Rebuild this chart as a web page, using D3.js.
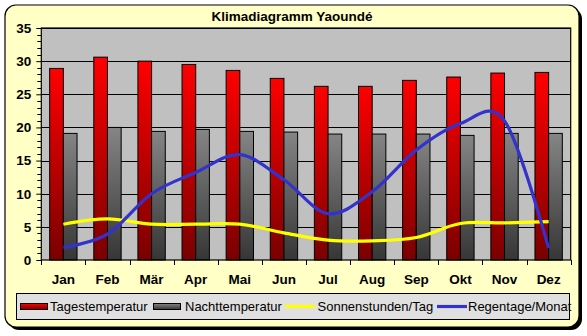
<!DOCTYPE html>
<html>
<head>
<meta charset="utf-8">
<script src="https://cdn.jsdelivr.net/npm/d3@7"></script>
<style>
html,body{margin:0;padding:0;background:#fff;}
svg{display:block;}
text{font-family:"Liberation Sans",Arial,sans-serif;}
</style>
</head>
<body>
<svg id="chart" width="587" height="336"></svg>
<script>
const title = "Klimadiagramm Yaoundé";
const months = ["Jan","Feb","Mär","Apr","Mai","Jun","Jul","Aug","Sep","Okt","Nov","Dez"];
const tagesTemp = [28.9,30.6,30.0,29.5,28.6,27.4,26.2,26.2,27.1,27.6,28.2,28.3];
const nachtTemp = [19.1,20.0,19.4,19.7,19.4,19.3,19.0,19.0,19.0,18.8,19.1,19.1];
const sonnen = [5.4,6.2,5.4,5.4,5.4,4.1,3.0,2.9,3.4,5.5,5.6,5.8];
const regen = [1.9,3.9,10.0,13.2,15.9,12.1,7.0,10.3,16.6,20.6,21.0,1.8];
const yTicks = [0,5,10,15,20,25,30,35];
const seriesNames = ["Tagestemperatur","Nachttemperatur","Sonnenstunden/Tag","Regentage/Monat"];

(function(){
const svg = d3.select("#chart");
const defs = svg.append("defs");

function grad(id, c1, c2){
  const g = defs.append("linearGradient").attr("id", id)
    .attr("x1",0).attr("y1",0).attr("x2",0).attr("y2",1);
  g.append("stop").attr("offset","0%").attr("stop-color",c1);
  g.append("stop").attr("offset","100%").attr("stop-color",c2);
}
grad("gRed","#ff0000","#7a0000");
grad("gGrey","#858585","#363636");

// frame with shadow
const fx=5, fy=5, fw=574, fh=322, fr=11;
svg.append("rect").attr("x",fx+3).attr("y",fy+3).attr("width",fw).attr("height",fh)
  .attr("rx",fr).attr("fill","#000");
svg.append("rect").attr("x",fx).attr("y",fy).attr("width",fw).attr("height",fh)
  .attr("rx",fr).attr("fill","#ffffc6").attr("stroke","#000").attr("stroke-width",1.2);

// title
svg.append("text").attr("x",292).attr("y",21).attr("text-anchor","middle")
  .attr("font-size",13.5).attr("font-weight","bold").text(title);

const pL=41.3, pR=570.7, pT=28, pB=260;
const x = d3.scaleBand().domain(months).range([pL,pR]).paddingInner(0.38).paddingOuter(0.19);
const xs = d3.scaleBand().domain([0,1]).range([0,x.bandwidth()]);
const y = d3.scaleLinear().domain([0,35]).range([pB,pT]);

// plot area
svg.append("rect").attr("x",pL).attr("y",pT).attr("width",pR-pL).attr("height",pB-pT)
  .attr("fill","#c0c0c0");

// gridlines
svg.append("g").selectAll("line").data(yTicks.filter(d=>d>0)).join("line")
  .attr("x1",pL).attr("x2",pR).attr("y1",d=>Math.round(y(d))+0.5).attr("y2",d=>Math.round(y(d))+0.5)
  .attr("stroke","#000").attr("stroke-width",1);

// bars
const g = svg.append("g");
g.selectAll(".tb").data(tagesTemp).join("rect")
  .attr("x",(d,i)=>x(months[i])+xs(0)).attr("y",d=>y(d))
  .attr("width",xs.bandwidth()).attr("height",d=>y(0)-y(d))
  .attr("fill","url(#gRed)").attr("stroke","#000").attr("stroke-width",1);
g.selectAll(".nb").data(nachtTemp).join("rect")
  .attr("x",(d,i)=>x(months[i])+xs(1)).attr("y",d=>y(d))
  .attr("width",xs.bandwidth()).attr("height",d=>y(0)-y(d))
  .attr("fill","url(#gGrey)").attr("stroke","#000").attr("stroke-width",1);

// plot border
svg.append("rect").attr("x",pL).attr("y",pT).attr("width",pR-pL).attr("height",pB-pT)
  .attr("fill","none").attr("stroke","#000").attr("stroke-width",1.2);

// lines
const cx = (i)=> x(months[i]) + x.bandwidth()/2;
const line = d3.line().x((d,i)=>cx(i)).y(d=>y(d)).curve(d3.curveCatmullRom.alpha(0));
svg.append("path").datum(sonnen).attr("d",line).attr("fill","none")
  .attr("stroke","#ffff00").attr("stroke-width",3.2);
svg.append("path").datum(regen).attr("d",line).attr("fill","none")
  .attr("stroke","#3333cc").attr("stroke-width",3.2);

// y axis
const yAxis = d3.axisLeft(y).tickValues(yTicks).tickSize(5).tickPadding(5).tickFormat(d3.format("d"));
const ya = svg.append("g").attr("transform",`translate(${pL},0)`).call(yAxis);
ya.select(".domain").remove();
ya.selectAll("line").attr("stroke","#000");
ya.selectAll("text").attr("font-size",13.5).attr("font-weight","bold").attr("fill","#000")
  .attr("font-family","'Liberation Sans',Arial,sans-serif");
// minor ticks
const minor = d3.range(0,36).filter(v=>v%5!==0);
svg.append("g").selectAll("line").data(minor).join("line")
  .attr("x1",pL-4).attr("x2",pL).attr("y1",d=>Math.round(y(d))+0.5).attr("y2",d=>Math.round(y(d))+0.5)
  .attr("stroke","#000");

// x axis: ticks at category boundaries
const bounds = d3.range(0,13).map(i=> i<12 ? x(months[i]) - x.step()*x.paddingInner()/2 : pR);
svg.append("g").selectAll("line").data(bounds).join("line")
  .attr("x1",d=>Math.round(d)+0.5).attr("x2",d=>Math.round(d)+0.5).attr("y1",pB).attr("y2",pB+5)
  .attr("stroke","#000");
svg.append("g").selectAll("text").data(months).join("text")
  .attr("x",d=>x(d)+x.bandwidth()/2).attr("y",284).attr("text-anchor","middle")
  .attr("font-size",13.5).attr("font-weight","bold").text(d=>d);

// legend
svg.append("rect").attr("x",16.5).attr("y",293.5).attr("width",553).attr("height",26)
  .attr("fill","#e0e0e0").attr("stroke","#000").attr("stroke-width",1);
const lg = svg.append("g");
const ly = 311;
lg.append("rect").attr("x",20.5).attr("y",303.5).attr("width",27).attr("height",6)
  .attr("fill","url(#gRed)").attr("stroke","#000");
lg.append("rect").attr("x",153.5).attr("y",303.5).attr("width",27).attr("height",6)
  .attr("fill","url(#gGrey)").attr("stroke","#000");
lg.append("line").attr("x1",285).attr("x2",315).attr("y1",306.5).attr("y2",306.5)
  .attr("stroke","#ffff00").attr("stroke-width",3.2);
lg.append("line").attr("x1",437).attr("x2",467).attr("y1",306.5).attr("y2",306.5)
  .attr("stroke","#3333cc").attr("stroke-width",3.2);
const lx = [50,185,317.5,468];
lg.selectAll("text").data(seriesNames).join("text")
  .attr("x",(d,i)=>lx[i]).attr("y",ly).attr("font-size",13).text(d=>d);
})();
</script>
</body>
</html>
